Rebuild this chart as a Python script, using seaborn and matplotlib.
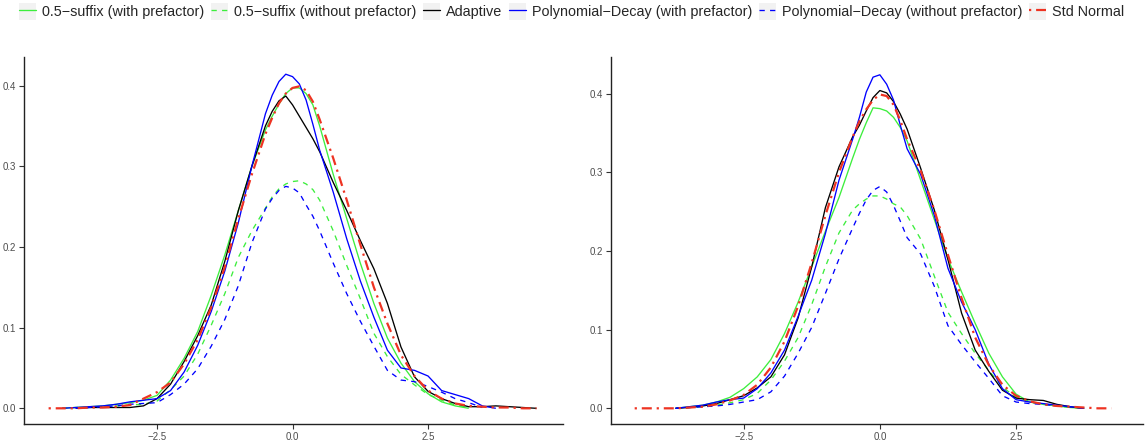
import numpy as np
import pandas as pd
import matplotlib
matplotlib.use("Agg")
import matplotlib.pyplot as plt
import seaborn as sns
from matplotlib.legend_handler import HandlerLine2D
from matplotlib.patches import Rectangle
from matplotlib.lines import Line2D

nan = np.nan

# ---------------- data (density values) ----------------
x_grid = [-4.5, -4.25, -4.0, -3.75, -3.5, -3.25, -3.0, -2.75, -2.5, -2.25, -2.0,
          -1.75, -1.5, -1.25, -1.0, -0.75, -0.5, -0.375, -0.25, -0.125, 0.0,
          0.125, 0.25, 0.375, 0.5, 0.75, 1.0, 1.25, 1.5, 1.75, 2.0,
          2.25, 2.5, 2.75, 3.0, 3.25, 3.5, 3.75, 4.0, 4.25, 4.5]

series_names = ["0.5\u2212suffix (with prefactor)",
                "0.5\u2212suffix (without prefactor)",
                "Adaptive",
                "Polynomial\u2212Decay (with prefactor)",
                "Polynomial\u2212Decay (without prefactor)",
                "Std Normal"]

# left panel
left_suffix_with = [nan, 0.000, 0.001, 0.002, 0.003, 0.005, 0.007, 0.010, 0.016, 0.035, 0.062,
                    0.095, 0.140, 0.190, 0.245, 0.300, 0.345, 0.362, 0.377, 0.390, 0.397,
                    0.397, 0.390, 0.376, 0.350, 0.290, 0.235, 0.180, 0.130, 0.087, 0.056,
                    0.033, 0.018, 0.008, 0.003, 0.000, nan, nan, nan, nan, nan]
left_suffix_without = [nan, 0.000, 0.001, 0.001, 0.002, 0.003, 0.004, 0.005, 0.009, 0.023, 0.040,
                       0.067, 0.103, 0.142, 0.187, 0.220, 0.248, 0.262, 0.272, 0.278, 0.281,
                       0.282, 0.278, 0.271, 0.258, 0.220, 0.177, 0.136, 0.093, 0.064, 0.042,
                       0.029, 0.017, 0.010, 0.004, 0.001, nan, nan, nan, nan, nan]
left_adaptive = [nan, nan, 0.000, 0.001, 0.001, 0.001, 0.001, 0.003, 0.012, 0.030, 0.058,
                 0.090, 0.128, 0.182, 0.245, 0.300, 0.350, 0.368, 0.381, 0.387, 0.376,
                 0.362, 0.348, 0.334, 0.318, 0.280, 0.245, 0.208, 0.173, 0.130, 0.076,
                 0.039, 0.021, 0.012, 0.006, 0.002, 0.002, 0.003, 0.002, 0.001, 0.000]
left_poly_with = [nan, 0.000, 0.001, 0.002, 0.003, 0.005, 0.008, 0.010, 0.012, 0.022, 0.045,
                  0.078, 0.120, 0.170, 0.230, 0.300, 0.365, 0.388, 0.405, 0.414, 0.411,
                  0.402, 0.382, 0.352, 0.320, 0.268, 0.210, 0.158, 0.113, 0.072, 0.050,
                  0.047, 0.040, 0.022, 0.017, 0.012, 0.003, 0.000, nan, nan, nan]
left_poly_without = [nan, nan, 0.000, 0.001, 0.002, 0.003, 0.005, 0.006, 0.007, 0.017, 0.030,
                     0.049, 0.077, 0.110, 0.152, 0.205, 0.247, 0.260, 0.270, 0.275, 0.273,
                     0.267, 0.252, 0.238, 0.220, 0.180, 0.142, 0.108, 0.077, 0.047, 0.035,
                     0.033, 0.027, 0.020, 0.012, 0.007, 0.001, nan, nan, nan, nan]
left_std_normal = [0.000, 0.000, 0.000, 0.001, 0.001, 0.002, 0.004, 0.012, 0.020, 0.032, 0.055,
                   0.085, 0.125, 0.175, 0.235, 0.290, 0.340, 0.360, 0.378, 0.390, 0.397,
                   0.399, 0.394, 0.380, 0.358, 0.310, 0.258, 0.203, 0.150, 0.105, 0.066,
                   0.040, 0.022, 0.012, 0.006, 0.003, 0.002, 0.001, 0.001, 0.000, 0.000]

# right panel
right_suffix_with = [nan, nan, nan, 0.000, 0.002, 0.004, 0.008, 0.014, 0.025, 0.040, 0.062,
                     0.095, 0.135, 0.180, 0.225, 0.268, 0.318, 0.342, 0.363, 0.382, 0.381,
                     0.378, 0.370, 0.357, 0.340, 0.290, 0.240, 0.190, 0.148, 0.108, 0.070,
                     0.040, 0.018, 0.008, 0.005, 0.003, 0.001, 0.000, nan, nan, nan]
right_suffix_without = [nan, nan, nan, 0.000, 0.001, 0.002, 0.004, 0.007, 0.011, 0.019, 0.036,
                        0.060, 0.090, 0.132, 0.180, 0.223, 0.252, 0.260, 0.266, 0.270, 0.270,
                        0.266, 0.260, 0.256, 0.245, 0.215, 0.168, 0.122, 0.095, 0.070, 0.048,
                        0.027, 0.014, 0.008, 0.005, 0.003, 0.001, 0.000, nan, nan, nan]
right_adaptive = [nan, nan, nan, 0.000, 0.001, 0.003, 0.006, 0.011, 0.016, 0.026, 0.040,
                  0.068, 0.115, 0.180, 0.255, 0.307, 0.345, 0.360, 0.378, 0.395, 0.404,
                  0.401, 0.390, 0.374, 0.355, 0.305, 0.252, 0.189, 0.121, 0.074, 0.047,
                  0.023, 0.013, 0.011, 0.010, 0.005, 0.002, 0.000, nan, nan, nan]
right_poly_with = [nan, nan, nan, 0.000, 0.002, 0.004, 0.008, 0.011, 0.013, 0.025, 0.045,
                   0.074, 0.117, 0.163, 0.222, 0.290, 0.342, 0.370, 0.402, 0.421, 0.424,
                   0.412, 0.392, 0.360, 0.330, 0.297, 0.245, 0.178, 0.135, 0.100, 0.056,
                   0.025, 0.011, 0.008, 0.006, 0.004, 0.002, 0.000, nan, nan, nan]
right_poly_without = [nan, nan, nan, 0.000, 0.001, 0.002, 0.003, 0.005, 0.008, 0.011, 0.021,
                      0.041, 0.070, 0.103, 0.146, 0.190, 0.229, 0.248, 0.265, 0.277, 0.282,
                      0.275, 0.258, 0.238, 0.217, 0.196, 0.155, 0.105, 0.081, 0.059, 0.038,
                      0.016, 0.008, 0.006, 0.005, 0.003, 0.002, 0.000, nan, nan, nan]
right_std_normal = [0.000, 0.000, 0.000, 0.000, 0.001, 0.002, 0.005, 0.010, 0.017, 0.030, 0.052,
                    0.085, 0.130, 0.185, 0.245, 0.300, 0.345, 0.365, 0.380, 0.392, 0.399,
                    0.397, 0.386, 0.366, 0.342, 0.302, 0.252, 0.195, 0.140, 0.090, 0.055,
                    0.030, 0.016, 0.009, 0.005, 0.003, 0.002, 0.001, 0.000, 0.000, nan]

x_ticks = [-2.5, 0.0, 2.5]
y_ticks = [0.0, 0.1, 0.2, 0.3, 0.4]

# ---------------- styling ----------------
colors = ["#3DEE3D", "#3DEE3D", "#000000", "#0000FF", "#0000FF", "#EE3322"]
dash_styles = ["", (4, 4), "", "", (4, 4), (1, 2.2, 4.5, 2.2)]
line_widths = [0.95, 0.95, 0.95, 0.95, 0.95, 1.6]

palette = dict(zip(series_names, colors))
dashes = dict(zip(series_names, dash_styles))
sizes = dict(zip(series_names, line_widths))

sns.set_theme(style="white")
plt.rcParams["font.family"] = ["Liberation Sans", "DejaVu Sans"]


def long_frame(columns):
    frames = [pd.DataFrame({"x": x_grid, "density": vals, "series": name})
              for name, vals in zip(series_names, columns)]
    return pd.concat(frames, ignore_index=True).dropna()


left_df = long_frame([left_suffix_with, left_suffix_without, left_adaptive,
                      left_poly_with, left_poly_without, left_std_normal])
right_df = long_frame([right_suffix_with, right_suffix_without, right_adaptive,
                       right_poly_with, right_poly_without, right_std_normal])

fig = plt.figure(figsize=(11.46, 4.44), dpi=100)
fig.patch.set_facecolor("white")
axL = fig.add_axes([0.02094, 0.0444, 0.4699, 0.8279])
axR = fig.add_axes([0.5329, 0.0444, 0.4645, 0.8279])


def fmt(v):
    return f"{v:.1f}".replace("-", "\u2212")


for ax, df, xlim, ylim in [(axL, left_df, (-4.954, 4.98), (-0.0198, 0.4357)),
                           (axR, right_df, (-4.94, 4.83), (-0.0203, 0.447))]:
    sns.lineplot(data=df, x="x", y="density", hue="series", style="series", size="series",
                 hue_order=series_names, style_order=series_names, size_order=series_names,
                 palette=palette, dashes=dashes, sizes=sizes, estimator=None, sort=True,
                 legend=False, ax=ax)
    ax.set_xlim(*xlim)
    ax.set_ylim(*ylim)
    ax.set_xticks(x_ticks)
    ax.set_xticklabels([fmt(v) for v in x_ticks])
    ax.set_yticks(y_ticks)
    ax.set_yticklabels([fmt(v) for v in y_ticks])
    ax.set_xlabel("")
    ax.set_ylabel("")
    ax.set_facecolor("white")
    for s in ["top", "right"]:
        ax.spines[s].set_visible(False)
    for s in ["left", "bottom"]:
        ax.spines[s].set_color("#222222")
        ax.spines[s].set_linewidth(1.0)
    ax.tick_params(axis="both", length=3.5, width=0.8, color="#333333",
                   labelsize=7, labelcolor="#4D4D4D", pad=2, direction="out",
                   bottom=True, left=True)
    for line in ax.get_lines():
        line.set_solid_capstyle("butt")
        line.set_dash_capstyle("butt")
        line.set_solid_joinstyle("round")


class KeyBackground(HandlerLine2D):
    def create_artists(self, legend, orig_handle, xdescent, ydescent, width, height,
                       fontsize, trans):
        artists = super().create_artists(legend, orig_handle, xdescent, ydescent,
                                         width, height, fontsize, trans)
        for a in artists:
            xd = a.get_xdata()
            if len(xd) == 2:
                x0, x1 = xd
                a.set_xdata([x0 + 0.14 * width, x1 - 0.14 * width])
        side = width
        rect = Rectangle((-xdescent, -ydescent + height / 2 - side / 2), side, side,
                         facecolor="#F2F2F2", edgecolor="none", transform=trans)
        return [rect] + list(artists)


handles = []
for name, c, d, w in zip(series_names, colors, dash_styles, line_widths):
    if d == "":
        h = Line2D([], [], color=c, lw=w, linestyle="-")
    else:
        h = Line2D([], [], color=c, lw=w, linestyle=(0, d))
    handles.append(h)

fig.legend(handles, series_names, loc="center", bbox_to_anchor=(0.4986, 1 - 11.5 / 444),
           ncol=6, frameon=False, fontsize=10.4, handlelength=1.19, handleheight=1.2,
           handletextpad=0.41, columnspacing=0.46, borderaxespad=0, borderpad=0,
           handler_map={Line2D: KeyBackground()})

fig.savefig("out.png", dpi=100, facecolor="white")
